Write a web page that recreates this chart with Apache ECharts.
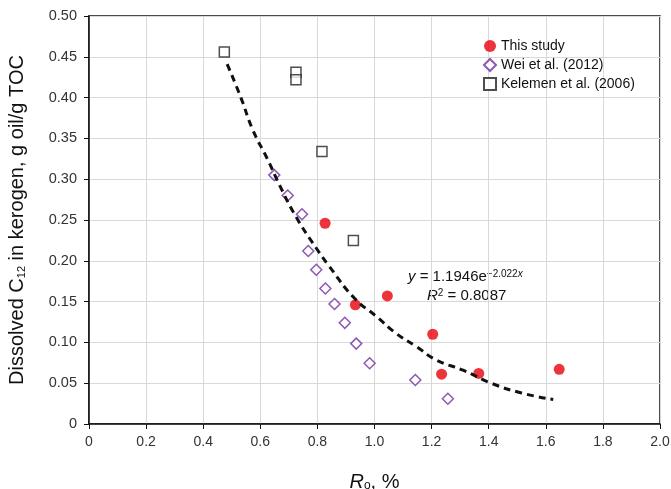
<!DOCTYPE html>
<html>
<head>
<meta charset="utf-8">
<script src="https://cdn.jsdelivr.net/npm/echarts@6/dist/echarts.min.js"></script>
<style>
  html, body { margin: 0; padding: 0; background: #fff; }
  #plot { width: 671px; height: 489px; }
</style>
</head>
<body>
<div id="plot"></div>
<script>
// values
var thisStudyX = [0.827, 0.933, 1.045, 1.204, 1.235, 1.365, 1.647];
var thisStudyY = [0.246, 0.146, 0.157, 0.110, 0.061, 0.062, 0.067];

var weiX = [0.649, 0.696, 0.746, 0.768, 0.796, 0.828, 0.860, 0.896, 0.936, 0.983, 1.143, 1.257];
var weiY = [0.305, 0.280, 0.257, 0.212, 0.189, 0.166, 0.147, 0.124, 0.0985, 0.0745, 0.054, 0.031];

var kelemenX = [0.474, 0.725, 0.725, 0.816, 0.926];
var kelemenY = [0.456, 0.431, 0.422, 0.334, 0.225];

// dashed trend curve
var fitX = [0.484, 0.532, 0.573, 0.626, 0.667, 0.725, 0.795, 0.842, 0.930, 1.006, 1.076, 1.146, 1.216, 1.310, 1.409, 1.515, 1.626];
var fitY = [0.441, 0.400, 0.361, 0.324, 0.293, 0.254, 0.216, 0.193, 0.154, 0.132, 0.111, 0.095, 0.0785, 0.066, 0.050, 0.038, 0.030];

var seriesNames = ['This study', 'Wei et al. (2012)', 'Kelemen et al. (2006)'];

function pairs(xs, ys) {
  return xs.map(function (x, i) { return [x, ys[i]]; });
}

var font = 'Liberation Sans, Arial, sans-serif';
var myChart = echarts.init(document.getElementById('plot'));

var option = {
  animation: false,
  backgroundColor: '#fff',
  textStyle: { fontFamily: font },
  grid: {
    left: 89, top: 16, right: 11, bottom: 65,
    outerBoundsMode: 'none', containLabel: false,
    show: true, borderColor: '#111', borderWidth: 1.5
  },
  legend: {
    orient: 'vertical',
    left: 478, top: 34,
    itemWidth: 12, itemHeight: 12, itemGap: 5,
    textStyle: { fontSize: 14, color: '#111', fontFamily: font },
    data: seriesNames
  },
  xAxis: {
    type: 'value', min: 0, max: 2, interval: 0.2,
    name: '{i|R}{s|o}{a|, %}',
    nameLocation: 'middle', nameGap: 48,
    nameTextStyle: {
      rich: {
        i: { fontSize: 20, fontStyle: 'italic', color: '#111', fontFamily: font },
        s: { fontSize: 12, verticalAlign: 'bottom', color: '#111', fontFamily: font },
        a: { fontSize: 20, color: '#111', fontFamily: font }
      }
    },
    axisLine: { lineStyle: { color: '#111', width: 1.5 } },
    axisTick: { inside: false, length: 5, lineStyle: { color: '#111' } },
    axisLabel: {
      fontSize: 14, color: '#333', margin: 11,
      formatter: function (v) { return v === 0 ? '0' : v.toFixed(1); }
    },
    splitLine: { lineStyle: { color: '#d9d9d9', width: 1 } }
  },
  yAxis: {
    type: 'value', min: 0, max: 0.5, interval: 0.05,
    name: '{a|Dissolved C}{s|12}{a| in kerogen, g oil/g TOC}',
    nameLocation: 'middle', nameGap: 62,
    nameTextStyle: {
      rich: {
        a: { fontSize: 20, color: '#111', fontFamily: font },
        s: { fontSize: 11, verticalAlign: 'bottom', color: '#111', fontFamily: font }
      }
    },
    axisLine: { lineStyle: { color: '#111', width: 1.5 } },
    axisTick: { inside: false, length: 5, lineStyle: { color: '#111' } },
    axisLabel: {
      fontSize: 14.5, color: '#333', margin: 12,
      formatter: function (v) { return v === 0 ? '0' : v.toFixed(2); }
    },
    splitLine: { lineStyle: { color: '#d9d9d9', width: 1 } }
  },
  graphic: [
    {
      type: 'text', left: 408, top: 269,
      style: {
        text: '{i|y}{a| = 1.1946e}{u|\u22122.022}{ui|x}',
        rich: {
          i: { fontSize: 15, fontStyle: 'italic', fill: '#111', fontFamily: font },
          a: { fontSize: 15, fill: '#111', fontFamily: font },
          u: { fontSize: 10, verticalAlign: 'top', fill: '#111', fontFamily: font },
          ui: { fontSize: 10, fontStyle: 'italic', verticalAlign: 'top', fill: '#111', fontFamily: font }
        }
      }
    },
    {
      type: 'text', left: 427, top: 288,
      style: {
        text: '{i|R}{u|2}{a| = 0.8087}',
        rich: {
          i: { fontSize: 15, fontStyle: 'italic', fill: '#111', fontFamily: font },
          a: { fontSize: 15, fill: '#111', fontFamily: font },
          u: { fontSize: 10, verticalAlign: 'top', fill: '#111', fontFamily: font }
        }
      }
    }
  ],
  series: [
    {
      name: seriesNames[0], type: 'scatter',
      symbol: 'circle', symbolSize: 11,
      itemStyle: { color: '#e8000b' },
      data: pairs(thisStudyX, thisStudyY), z: 3
    },
    {
      name: seriesNames[1], type: 'scatter',
      symbol: 'diamond', symbolSize: 11,
      itemStyle: { color: '#fff', borderColor: '#7030a0', borderWidth: 1.5 },
      data: pairs(weiX, weiY), z: 2
    },
    {
      name: seriesNames[2], type: 'scatter',
      symbol: 'rect', symbolSize: 10,
      itemStyle: { color: '#fff', borderColor: '#222', borderWidth: 1.5 },
      data: pairs(kelemenX, kelemenY), z: 2
    },
    {
      name: 'fit', type: 'line',
      smooth: true, showSymbol: false, silent: true,
      lineStyle: { color: '#111', width: 3, type: [7, 5] },
      data: pairs(fitX, fitY), z: 4
    }
  ]
};

myChart.setOption(option);
</script>
</body>
</html>
